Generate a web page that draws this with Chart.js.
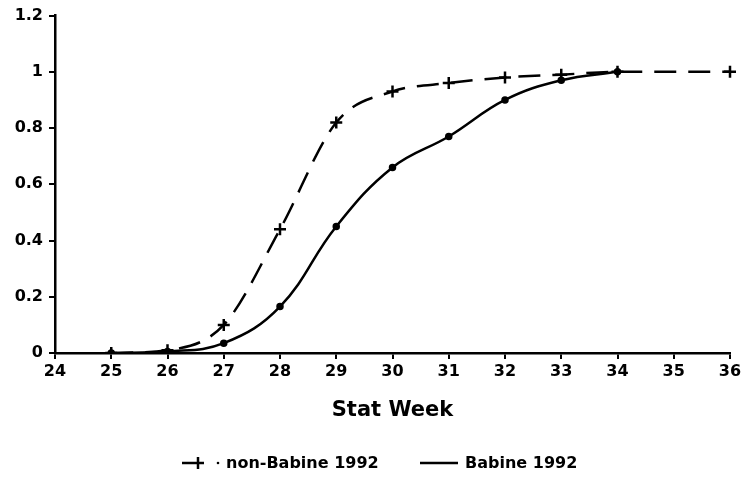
<!DOCTYPE html>
<html>
<head>
<meta charset="utf-8">
<script src="https://cdn.jsdelivr.net/npm/chart.js@4.4.0/dist/chart.umd.min.js"></script>
<style>
  body { margin: 0; background: #fff; }
  #wrap { position: relative; width: 747px; height: 481px; }
  .lg {
    position: absolute; top: 452px;
    font: bold 16px "DejaVu Sans", sans-serif; color: #000;
    white-space: nowrap; line-height: 22px;
  }
  .lg svg { display: block; }
</style>
</head>
<body>
<div id="wrap">
  <canvas id="lineChart" width="747" height="481"></canvas>
  <div class="lg" style="left:180px"><svg width="44" height="22"><line x1="2" y1="11" x2="24" y2="11" stroke="#000" stroke-width="2.5"/><line x1="18" y1="5" x2="18" y2="17" stroke="#000" stroke-width="2.5"/><circle cx="38" cy="11" r="1.3" fill="#000"/></svg></div>
  <div class="lg" style="left:226px">non-Babine 1992</div>
  <div class="lg" style="left:420px"><svg width="40" height="22"><line x1="0" y1="11" x2="38" y2="11" stroke="#000" stroke-width="2.5"/></svg></div>
  <div class="lg" style="left:465px">Babine 1992</div>
</div>
<script>
const weeks = ['24', '25', '26', '27', '28', '29', '30', '31', '32', '33', '34', '35', '36'];
const nonBabine = [null, 0, 0.01, 0.1, 0.44, 0.82, 0.93, 0.96, 0.98, 0.99, 1.0, null, 1.0];
const babine = [null, 0, 0.005, 0.035, 0.165, 0.45, 0.66, 0.77, 0.9, 0.97, 1.0, null, null];
const yTicks = [0, 0.2, 0.4, 0.6, 0.8, 1, 1.2];

const tickFont = { family: '"DejaVu Sans", sans-serif', size: 16, weight: 'bold' };

const ctx = document.getElementById('lineChart').getContext('2d');
const myChart = new Chart(ctx, {
    type: 'line',
    data: {
        labels: weeks,
        datasets: [{
            label: 'non-Babine 1992',
            data: nonBabine,
            borderColor: '#000',
            borderWidth: 2.5,
            borderDash: [22, 12],
            pointStyle: 'cross',
            pointRadius: 6,
            pointBorderWidth: 2.5,
            pointBorderColor: '#000',
            cubicInterpolationMode: 'monotone',
            spanGaps: true
        }, {
            label: 'Babine 1992',
            data: babine,
            borderColor: '#000',
            borderWidth: 2.5,
            pointStyle: 'circle',
            pointRadius: 2.5,
            pointBackgroundColor: '#000',
            pointBorderColor: '#000',
            tension: 0.4
        }]
    },
    options: {
        responsive: false,
        animation: false,
        layout: { padding: { top: 15, right: 17, bottom: 54, left: 0 } },
        plugins: { legend: { display: false }, tooltip: { enabled: false } },
        scales: {
            x: {
                type: 'category',
                offset: false,
                grid: { drawOnChartArea: false, color: '#000', lineWidth: 2, tickLength: 6 },
                border: { color: '#000', width: 2.5 },
                ticks: { color: '#000', font: tickFont, maxRotation: 0, autoSkip: false, padding: 3 },
                title: {
                    display: true, text: 'Stat Week', color: '#000',
                    font: { family: '"DejaVu Sans", sans-serif', size: 21, weight: 'bold' },
                    padding: { top: 6 }
                },
                afterFit: (s) => { s.height = 74; }
            },
            y: {
                min: 0,
                max: 1.2,
                afterBuildTicks: (s) => { s.ticks = yTicks.map(v => ({ value: v })); },
                grid: { drawOnChartArea: false, color: '#000', lineWidth: 2, tickLength: 6 },
                border: { color: '#000', width: 2.5 },
                ticks: { color: '#000', font: tickFont, padding: 6, callback: (v) => String(+v.toFixed(1)) },
                afterFit: (s) => { s.width = 55; }
            }
        }
    }
});
</script>
</body>
</html>
